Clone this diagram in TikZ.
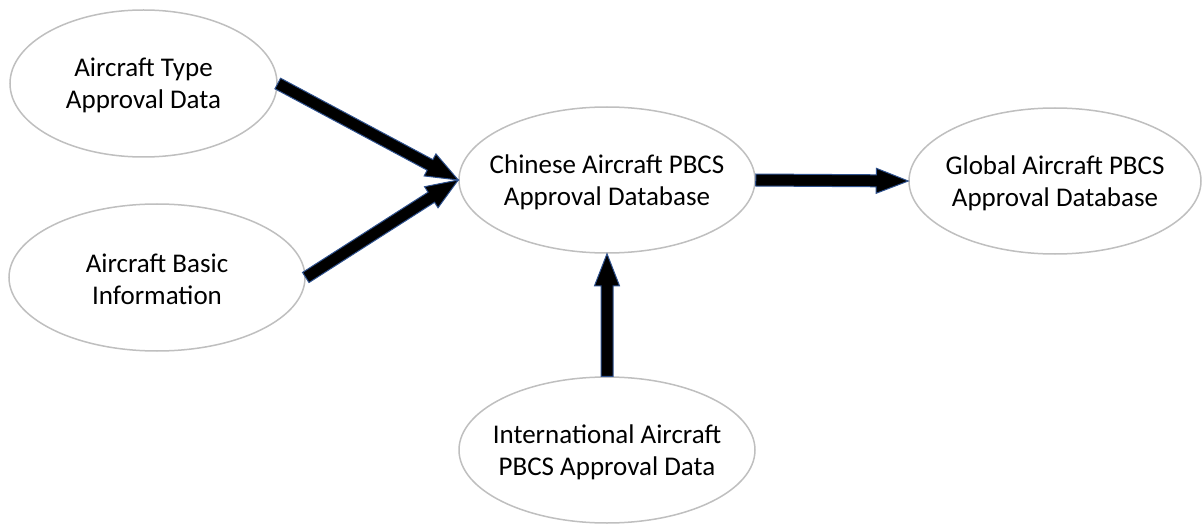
\documentclass[tikz,border=0pt]{standalone}
\usepackage{fontspec}
\setmainfont{Carlito}
\usetikzlibrary{shapes.geometric,calc}
\definecolor{ringgray}{HTML}{BFBFBF}
\definecolor{arrowedge}{HTML}{2F528F}
\tikzset{
  bubble/.style={ellipse, draw=ringgray, line width=1.5pt, fill=white,
    inner sep=0pt, minimum width=296pt, minimum height=146pt,
    label={[font=\fontsize{27}{32}\selectfont, align=center, inner sep=0pt,
            yshift=-2pt]center:#1}},
  blockarrow/.style={fill=black, draw=arrowedge, line width=1pt, line join=miter}
}
% thick block arrow between two named points: shaft 12pt wide, head 25pt wide, 32pt long
\newcommand{\blockarrow}[2]{%
  \coordinate (hb) at ($(#2)!32pt!(#1)$);
  \draw[blockarrow]
    ($(#1)!6pt!90:(#2)$) -- ($(hb)!6pt!-90:(#1)$) -- ($(hb)!12.5pt!-90:(#1)$)
    -- (#2) -- ($(hb)!12.5pt!90:(#1)$) -- ($(hb)!6pt!90:(#1)$)
    -- ($(#1)!6pt!-90:(#2)$) -- cycle;
}
\begin{document}
\begin{tikzpicture}[x=1pt,y=-1pt]
  \useasboundingbox (0,0) rectangle (1203,524);
  \node[bubble={Aircraft Type\\Approval Data}, minimum width=267pt, minimum height=147pt]
    (type) at (143.5,83.5) {};
  \node[bubble={Aircraft Basic\\Information}, minimum height=147pt]
    (basic) at (157,277.5) {};
  \node[bubble={Chinese Aircraft PBCS\\Approval Database}]
    (chinese) at (607,180) {};
  \node[bubble={Global Aircraft PBCS\\Approval Database}, minimum width=292pt]
    (global) at (1055,181) {};
  \node[bubble={International Aircraft\\PBCS Approval Data}]
    (intl) at (607,450) {};

  \coordinate (t1) at (type.east);
  \coordinate (t2) at (basic.east);
  \coordinate (cw) at (chinese.west);
  \coordinate (ce) at (chinese.east);
  \coordinate (cs) at (chinese.south);
  \coordinate (gw) at (global.west);
  \coordinate (in) at (intl.north);

  \blockarrow{t1}{cw}
  \blockarrow{t2}{cw}
  \blockarrow{ce}{gw}
  \blockarrow{in}{cs}
\end{tikzpicture}
\end{document}
